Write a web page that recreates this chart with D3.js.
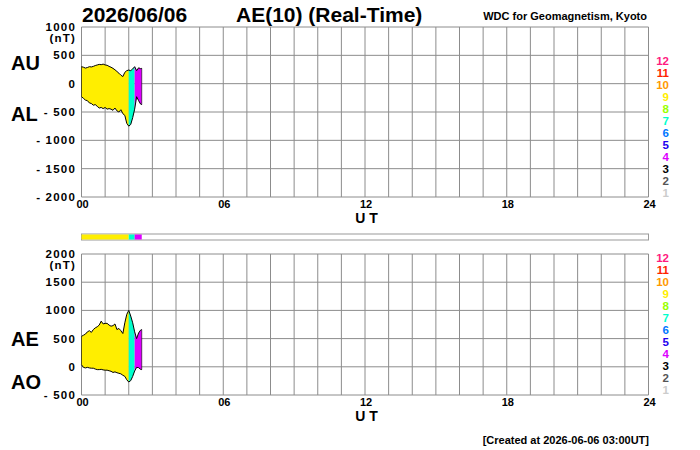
<!DOCTYPE html>
<html>
<head>
<meta charset="utf-8">
<script src="https://cdn.jsdelivr.net/npm/d3@7"></script>
<style>
  body { margin: 0; background: #fff; }
  text { font-family: "Liberation Sans", Arial, sans-serif; font-weight: bold; }
</style>
</head>
<body>
<div id="chart"></div>
<script>
// minutes after 00 UT
var minutes = [0,5,10,15,20,25,30,35,40,45,50,55,60,65,70,75,80,85,90,95,100,105,110,115,120,125,130,135,140,145,150,153];
var au = [300,290,275,285,300,295,305,320,330,340,335,345,330,325,305,290,270,245,215,185,150,125,200,230,240,230,260,300,230,280,265,270];
var al = [-230,-260,-290,-300,-340,-350,-380,-370,-400,-430,-420,-440,-420,-450,-440,-450,-470,-430,-480,-500,-460,-530,-560,-700,-750,-720,-600,-450,-230,-300,-360,-370];
var ae = [540,560,580,620,640,610,660,690,710,740,810,760,770,770,740,720,730,760,660,680,640,590,780,930,1000,900,780,620,500,600,650,660];
var ao = [35,-10,-20,-10,-20,-25,-25,-40,-50,-50,-45,-55,-60,-60,-70,-80,-100,-90,-105,-115,-125,-150,-170,-230,-270,-245,-170,-75,-10,-15,-45,-50];
// number of stations used
var stations = [9,9,9,9,9,9,9,9,9,9,9,9,9,9,9,9,9,9,9,9,9,9,9,9,7,7,7,4,4,4,4,4];

var hourTicks = [0,6,12,18,24];
var hourLabels = ["00","06","12","18","24"];
var topTicks = [1000,500,0,-500,-1000,-1500,-2000];
var botTicks = [2000,1500,1000,500,0,-500];
var stationNums = [12,11,10,9,8,7,6,5,4,3,2,1];
var stationCols = ["#ff1a80","#ff2200","#ff9900","#ffee00","#99ff00","#00ffcc","#0077ff","#2200ee","#dd00ff","#000000","#555555","#cccccc"];

function colorOf(n){ return stationCols[stationNums.indexOf(n)]; }

var svg = d3.select("#chart").append("svg")
  .attr("width", 700).attr("height", 450);

var x = d3.scaleLinear().domain([0,24]).range([81.5,648.5]);
var yTop = d3.scaleLinear().domain([-2000,1000]).range([197,27]);
var yBot = d3.scaleLinear().domain([-500,2000]).range([395,254]);

var data = minutes.map(function(m,i){
  return {h: m/60, au: au[i], al: al[i], ae: ae[i], ao: ao[i], n: stations[i]};
});

// split into runs with same station count, each run shares its last point with the next one
var runs = [];
data.forEach(function(d,i){
  if(i==0 || d.n != data[i-1].n){
    if(runs.length) runs[runs.length-1].pts.push(d);
    runs.push({n: d.n, pts: [d]});
  } else {
    runs[runs.length-1].pts.push(d);
  }
});

function panel(y, ticks, hiKey, loKey, bigTop, bigBot, bigTopY, bigBotY, legendY0){
  var g = svg.append("g");
  // grid
  g.selectAll(".vg").data(d3.range(0,25)).enter().append("line")
    .attr("x1", function(d){return x(d);}).attr("x2", function(d){return x(d);})
    .attr("y1", y.range()[1]).attr("y2", y.range()[0])
    .attr("stroke","#8c8c8c").attr("stroke-width",1);
  g.selectAll(".hg").data(ticks).enter().append("line")
    .attr("x1", x(0)).attr("x2", x(24))
    .attr("y1", function(d){return y(d);}).attr("y2", function(d){return y(d);})
    .attr("stroke","#8c8c8c").attr("stroke-width",1);

  // filled area, coloured by number of stations
  var area = d3.area()
    .x(function(d){return x(d.h);})
    .y0(function(d){return y(d[loKey]);})
    .y1(function(d){return y(d[hiKey]);});
  g.selectAll(".run").data(runs).enter().append("path")
    .attr("d", function(r){return area(r.pts);})
    .attr("fill", function(r){return colorOf(r.n);})
    .attr("stroke","none");

  var line = d3.line().x(function(d){return x(d.h);});
  [hiKey, loKey].forEach(function(k){
    g.append("path").datum(data)
      .attr("d", line.y(function(d){return y(d[k]);}))
      .attr("fill","none").attr("stroke","#000").attr("stroke-width",1);
  });
  // closing edges
  [data[0], data[data.length-1]].forEach(function(d){
    g.append("line").attr("x1",x(d.h)).attr("x2",x(d.h))
      .attr("y1",y(d[hiKey])).attr("y2",y(d[loKey]))
      .attr("stroke","#000").attr("stroke-width",0.6);
  });

  // y tick labels
  g.selectAll(".yl").data(ticks).enter().append("text")
    .attr("x", 76).attr("y", function(d){return y(d)+4;})
    .attr("text-anchor","end").attr("font-size",11.5).attr("letter-spacing",1.2)
    .text(function(d){return d<0 ? "- "+Math.abs(d) : d;});
  g.append("text").attr("x",76).attr("y",y(ticks[0])+15)
    .attr("text-anchor","end").attr("font-size",11.5).attr("letter-spacing",1.2)
    .text("(nT)");

  // x tick labels
  g.selectAll(".xl").data(hourTicks).enter().append("text")
    .attr("x", function(d){return x(d)+1;}).attr("y", y.range()[0]+10.5)
    .attr("text-anchor","middle").attr("font-size",11)
    .text(function(d,i){return hourLabels[i];});
  g.append("text").attr("x", x(12)+1.5).attr("y", y.range()[0]+25.5)
    .attr("text-anchor","middle").attr("font-size",14)
    .text("U T");

  // big labels
  g.append("text").attr("x",11).attr("y",bigTopY).attr("font-size",20).text(bigTop);
  g.append("text").attr("x",11).attr("y",bigBotY).attr("font-size",20).text(bigBot);

  // station legend
  g.selectAll(".lg").data(stationNums).enter().append("text")
    .attr("x", 669).attr("y", function(d,i){return legendY0 + i*12;})
    .attr("text-anchor","end").attr("font-size",11.5)
    .attr("fill", function(d,i){return stationCols[i];})
    .text(function(d){return d;});
}

panel(yTop, topTicks, "au", "al", "AU", "AL", 70, 121, 65);
panel(yBot, botTicks, "ae", "ao", "AE", "AO", 346, 389, 262);

// station colour bar between panels
svg.append("rect").attr("x", x(0)).attr("y", 234).attr("width", x(24)-x(0)).attr("height", 6)
  .attr("fill","#fff").attr("stroke","#999").attr("stroke-width",1);
svg.selectAll(".bar").data(runs).enter().append("rect")
  .attr("x", function(r){return x(r.pts[0].h);})
  .attr("width", function(r){return x(r.pts[r.pts.length-1].h)-x(r.pts[0].h);})
  .attr("y", 234.5).attr("height", 5)
  .attr("fill", function(r){return colorOf(r.n);});

// titles
svg.append("text").attr("x",82).attr("y",22).attr("font-size",21).text("2026/06/06");
svg.append("text").attr("x",236).attr("y",22).attr("font-size",21).text("AE(10) (Real-Time)");
svg.append("text").attr("x",647).attr("y",20).attr("text-anchor","end").attr("font-size",11).text("WDC for Geomagnetism, Kyoto");
svg.append("text").attr("x",649).attr("y",444).attr("text-anchor","end").attr("font-size",11).text("[Created at 2026-06-06 03:00UT]");
</script>
</body>
</html>
